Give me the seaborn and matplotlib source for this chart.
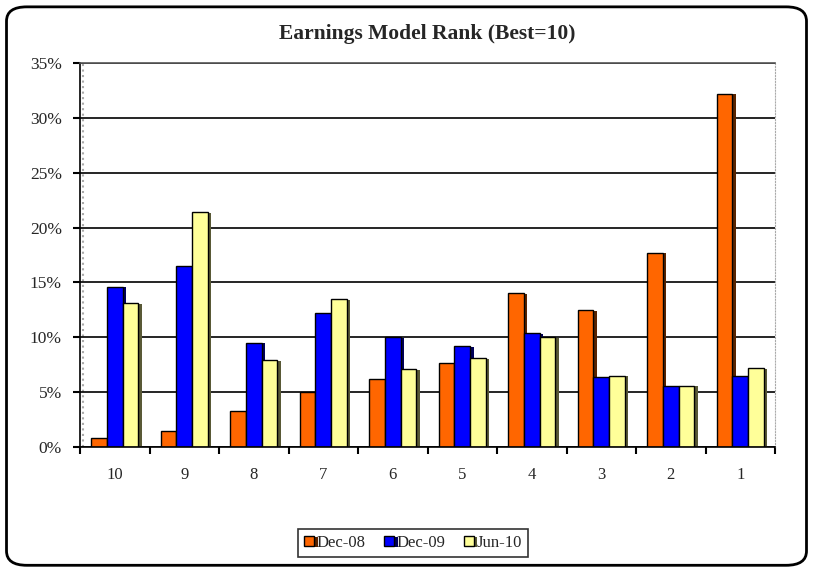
import numpy as np
import pandas as pd
import matplotlib
matplotlib.use("Agg")
import matplotlib.pyplot as plt
import matplotlib.patheffects as pe
from matplotlib.patches import FancyBboxPatch
from matplotlib.ticker import FixedLocator, PercentFormatter
import seaborn as sns

# ---- data ------------------------------------------------------------------
ranks  = ["10", "9", "8", "7", "6", "5", "4", "3", "2", "1"]
series = ["Dec-08", "Dec-09", "Jun-10"]
dec08  = [0.8, 1.5, 3.3, 5.0, 6.2, 7.7, 14.0, 12.5, 17.7, 32.2]
dec09  = [14.6, 16.5, 9.5, 12.2, 10.0, 9.2, 10.4, 6.4, 5.6, 6.5]
jun10  = [13.1, 21.4, 7.9, 13.5, 7.1, 8.1, 10.0, 6.5, 5.6, 7.2]
colors = ["#FF6600", "#0000FF", "#FFFF99"]

df = pd.DataFrame({
    "Rank": ranks * 3,
    "Series": [s for s in series for _ in ranks],
    "Value": dec08 + dec09 + jun10,
})

sns.set_style("white")
plt.rcParams["font.family"] = ["Liberation Serif", "DejaVu Serif"]

fig = plt.figure(figsize=(8.13, 5.71), dpi=100)
ax = fig.add_axes([0.0984, 0.217, 0.855, 0.673])

sns.barplot(data=df, x="Rank", y="Value", hue="Series", order=ranks,
            hue_order=series, palette=colors, width=0.68, gap=0,
            edgecolor="black", linewidth=1.0, saturation=1, ax=ax,
            legend=True)

# fake the excel 3d look with a darker shadow on the right
for bar in ax.patches:
    bar.set_path_effects([pe.SimplePatchShadow(offset=(2.5, -0.5), rho=0.35, alpha=1),
                          pe.Normal()])

ax.set_ylim(0, 35)
ax.set_xlim(-0.5, 9.5)
ax.yaxis.set_major_locator(FixedLocator(np.arange(0, 36, 5)))
ax.yaxis.set_major_formatter(PercentFormatter(decimals=0))
ax.grid(axis="y", color="black", linewidth=1.2)
ax.set_axisbelow(True)

# category boundary ticks on x, labels without ticks
ax.xaxis.set_minor_locator(FixedLocator(np.arange(-0.5, 10, 1)))
ax.tick_params(axis="x", which="major", length=0, pad=14, labelsize=12)
ax.tick_params(axis="x", which="minor", length=5, width=1.5, color="black",
               direction="out", bottom=True)
ax.tick_params(axis="y", length=5, width=1.5, color="black", direction="out",
               left=True, labelsize=12.5, pad=8)
ax.set_xlabel("")
ax.set_ylabel("")

for side in ["left", "bottom"]:
    ax.spines[side].set_color("black")
    ax.spines[side].set_linewidth(1.2)
ax.spines["top"].set_color("#555555")
ax.spines["top"].set_linewidth(1.2)
ax.spines["right"].set_color("#aaaaaa")
ax.spines["right"].set_linestyle(":")
# grey plot-area wall just inside the value axis
ax.axvline(-0.45, color="#aaaaaa", linestyle=":", linewidth=1.5, zorder=0)

ax.set_title("Earnings Model Rank (Best=10)", fontsize=15.5, fontweight="bold",
             pad=17)

handles, labels = ax.get_legend_handles_labels()
ax.legend(handles, labels, loc="center", bbox_to_anchor=(0.508, 0.049),
          bbox_transform=fig.transFigure, ncol=3, frameon=True, fancybox=False,
          edgecolor="black", fontsize=12, handlelength=0.6, handleheight=0.6,
          handletextpad=0.15, columnspacing=1.1, borderpad=0.35)
ax.get_legend().get_frame().set_linewidth(1.2)

# rounded outer border of the chart area
fig.patches.append(FancyBboxPatch((0.008, 0.01), 0.984, 0.978,
                                  boxstyle="round,pad=0,rounding_size=0.025",
                                  transform=fig.transFigure, fill=False,
                                  edgecolor="black", linewidth=2))

fig.savefig("out.png", dpi=100)
